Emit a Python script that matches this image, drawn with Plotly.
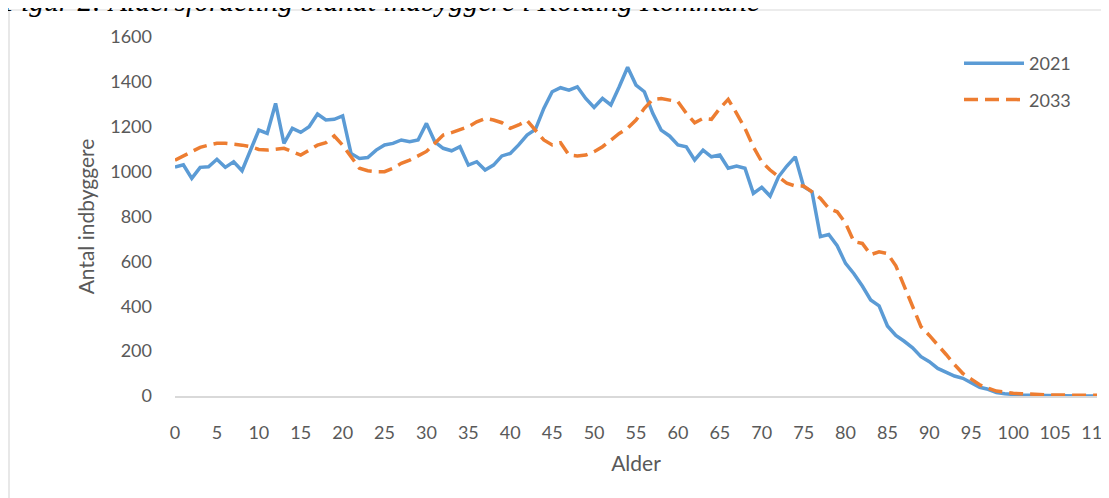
import plotly.graph_objects as go

ages = list(range(0, 111))

pop_2021 = [
    1020, 1030, 970, 1019, 1022, 1055, 1019, 1044, 1004, 1096,
    1185, 1170, 1304, 1126, 1193, 1175, 1200, 1257, 1230, 1233,
    1248, 1081, 1059, 1063, 1096, 1119, 1126, 1141, 1133, 1141,
    1215, 1133, 1104, 1093, 1111, 1029, 1044, 1007, 1029, 1070,
    1081, 1119, 1163, 1188, 1282, 1356, 1374, 1363, 1378, 1326,
    1286, 1326, 1297, 1378, 1465, 1386, 1356, 1260, 1185, 1159,
    1119, 1111, 1052, 1096, 1066, 1074, 1015, 1025, 1015, 903,
    930, 891, 977, 1025, 1066, 933, 910, 710, 720, 670,
    591, 545, 490, 428, 402, 312, 270, 244, 215, 175,
    153, 123, 108, 89, 79, 57, 39, 30, 15, 10,
    6, 4, 3, 2, 1, 1, 0, 0, 0, 0, 0,
]

pop_2033 = [
    1051, 1070, 1089, 1108, 1118, 1126, 1126, 1123, 1118, 1111,
    1099, 1096, 1099, 1104, 1089, 1074, 1096, 1118, 1129, 1159,
    1118, 1066, 1015, 1004, 1000, 1000, 1015, 1037, 1051, 1070,
    1090, 1126, 1163, 1174, 1185, 1200, 1222, 1237, 1230, 1218,
    1193, 1208, 1228, 1185, 1141, 1119, 1129, 1074, 1070, 1074,
    1089, 1111, 1141, 1170, 1193, 1230, 1282, 1322, 1326, 1319,
    1312, 1260, 1218, 1237, 1233, 1282, 1322, 1260, 1193, 1111,
    1044, 1007, 977, 948, 936, 936, 910, 881, 836, 821,
    770, 688, 680, 630, 643, 635, 580, 490, 390, 309,
    270, 230, 185, 140, 100, 75, 50, 35, 22, 18,
    12, 10, 8, 6, 5, 4, 4, 3, 3, 3, 3,
]

x_ticks = list(range(0, 111, 5))
y_ticks = list(range(0, 1601, 200))

title_text = "Figur 2: Aldersfordeling blandt indbyggere i Kolding Kommune"
font_fam = "Lato, 'Open Sans', sans-serif"
grey = "#595959"

# the page adds an 8px body margin, so the figure is 8px smaller
W, H = 1101, 490
L, R, T, B = 167, 12, 29, 102
PW = W - L - R
PH = H - T - B

fig = go.Figure()
fig.add_trace(go.Scatter(
    x=ages, y=pop_2021, name="2021", mode="lines", legendgroup="a",
    line=dict(color="#5B9BD5", width=3.5),
))
fig.add_trace(go.Scatter(
    x=ages, y=pop_2033, name="2033", mode="lines", legendgroup="b",
    line=dict(color="#ED7D31", width=3.5, dash="14px,7px"),
))

fig.update_layout(
    width=W, height=H,
    margin=dict(l=L, r=R, t=T, b=B, autoexpand=False),
    paper_bgcolor="white", plot_bgcolor="white",
    font=dict(family=font_fam, size=18, color=grey),
    showlegend=True,
    legend=dict(
        x=(951 - L) / PW, y=1 - 8 / PH, xanchor="left", yanchor="top",
        font=dict(family=font_fam, size=18, color=grey),
        itemwidth=60, traceorder="grouped", tracegroupgap=10,
        bgcolor="rgba(0,0,0,0)",
    ),
    annotations=[dict(
        text="<i>" + title_text + "</i>",
        font=dict(family="'Liberation Serif', serif", size=29.5, color="black"),
        xref="paper", yref="paper",
        x=(-7 - L) / PW, xanchor="left",
        y=(PH + T - 10) / PH, yanchor="bottom",
        showarrow=False, borderpad=0,
    )],
    xaxis=dict(
        range=[0, 110], tickmode="array", tickvals=x_ticks,
        ticktext=[str(v) for v in x_ticks],
        showgrid=False, zeroline=False, automargin=False,
        showline=True, linecolor="#D9D9D9", linewidth=1.5,
        layer="below traces",
        ticks="", ticklabelstandoff=20, ticklabeloverflow="allow",
        tickfont=dict(family=font_fam, size=18, color=grey),
        title=dict(text="Alder", font=dict(family=font_fam, size=21, color=grey), standoff=14),
    ),
    yaxis=dict(
        range=[0, 1600], tickmode="array", tickvals=y_ticks,
        ticktext=[str(v) for v in y_ticks],
        showgrid=False, zeroline=False, showline=False, automargin=False,
        ticks="", ticklabelstandoff=22,
        tickfont=dict(family=font_fam, size=18, color=grey),
        title=dict(text="Antal indbyggere", font=dict(family=font_fam, size=21, color=grey), standoff=9),
    ),
    shapes=[dict(
        type="rect", xref="paper", yref="paper",
        x0=(1 - L) / PW, x1=(W + 10 - L) / PW,
        y0=(PH + T - (H + 10)) / PH, y1=(PH + T - 2) / PH,
        line=dict(color="#D9D9D9", width=1.2), fillcolor="rgba(0,0,0,0)",
        layer="below",
    )],
)

fig.write_html("out.html")
